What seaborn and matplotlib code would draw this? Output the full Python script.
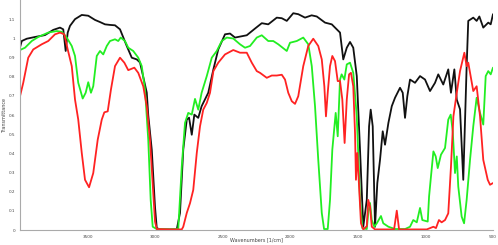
import numpy as np
import pandas as pd
import matplotlib
matplotlib.use("Agg")
import matplotlib.pyplot as plt
import seaborn as sns

black_wn = [4000, 3987, 3950, 3889, 3815, 3754, 3704, 3680, 3662, 3647, 3630, 3593, 3543, 3495, 3445, 3408, 3371, 3334, 3297, 3260, 3210, 3173, 3136, 3112, 3062, 3051, 3025, 3001, 2988, 2964, 2890, 2840, 2816, 2792, 2766, 2749, 2729, 2710, 2681, 2656, 2607, 2569, 2533, 2483, 2446, 2409, 2322, 2261, 2211, 2163, 2100, 2063, 2026, 1978, 1941, 1891, 1842, 1804, 1743, 1693, 1669, 1632, 1608, 1582, 1558, 1534, 1508, 1484, 1460, 1434, 1417, 1405, 1390, 1373, 1356, 1336, 1316, 1299, 1274, 1249, 1225, 1188, 1168, 1151, 1134, 1114, 1077, 1040, 1003, 966, 929, 905, 868, 831, 811, 786, 768, 744, 720, 695, 683, 646, 621, 601, 572, 535, 517, 500]
black_t = [0.953, 0.986, 0.998, 1.007, 1.017, 1.044, 1.056, 1.047, 0.934, 1.03, 1.065, 1.10, 1.122, 1.118, 1.096, 1.085, 1.073, 1.07, 1.068, 1.047, 0.96, 0.899, 0.89, 0.874, 0.717, 0.6, 0.419, 0.12, 0.01, 0.003, 0.003, 0.003, 0.089, 0.419, 0.576, 0.586, 0.497, 0.602, 0.585, 0.646, 0.716, 0.838, 0.942, 1.021, 1.025, 1.004, 1.016, 1.051, 1.079, 1.073, 1.108, 1.105, 1.091, 1.131, 1.126, 1.108, 1.12, 1.114, 1.082, 1.073, 1.056, 1.03, 0.89, 0.951, 0.981, 0.951, 0.803, 0.419, 0.017, 0.157, 0.541, 0.628, 0.541, 0.017, 0.245, 0.366, 0.515, 0.445, 0.559, 0.646, 0.69, 0.742, 0.716, 0.585, 0.698, 0.785, 0.768, 0.803, 0.785, 0.725, 0.768, 0.812, 0.759, 0.838, 0.716, 0.838, 0.68, 0.63, 0.262, 0.855, 1.091, 1.108, 1.091, 1.114, 1.056, 1.082, 1.073, 1.126]

green_wn = [4000, 3963, 3913, 3865, 3791, 3728, 3691, 3654, 3617, 3593, 3569, 3536, 3514, 3495, 3475, 3458, 3432, 3408, 3384, 3358, 3334, 3297, 3273, 3255, 3223, 3199, 3162, 3125, 3099, 3075, 3051, 3033, 3018, 2988, 2890, 2829, 2803, 2779, 2755, 2729, 2705, 2681, 2656, 2618, 2581, 2544, 2507, 2470, 2422, 2372, 2335, 2298, 2248, 2211, 2163, 2126, 2089, 2026, 2002, 1952, 1904, 1867, 1841, 1817, 1793, 1767, 1750, 1723, 1706, 1689, 1664, 1649, 1632, 1620, 1600, 1582, 1558, 1534, 1508, 1484, 1467, 1434, 1423, 1410, 1397, 1378, 1360, 1329, 1312, 1274, 1225, 1151, 1114, 1090, 1064, 1040, 1023, 983, 973, 959, 941, 924, 909, 885, 855, 831, 813, 798, 781, 768, 757, 732, 714, 695, 670, 646, 621, 596, 572, 554, 535, 517, 500]
green_t = [0.939, 0.951, 0.986, 1.007, 1.03, 1.038, 1.034, 1.004, 0.96, 0.908, 0.768, 0.686, 0.716, 0.771, 0.716, 0.75, 0.908, 0.934, 0.916, 0.96, 0.986, 0.995, 0.986, 1.004, 0.986, 0.951, 0.934, 0.899, 0.855, 0.733, 0.471, 0.157, 0.017, 0.005, 0.003, 0.005, 0.331, 0.559, 0.611, 0.602, 0.684, 0.628, 0.716, 0.803, 0.899, 0.934, 0.986, 1.004, 0.999, 0.969, 0.951, 0.96, 1.004, 1.016, 0.986, 0.986, 0.969, 0.934, 0.977, 0.986, 1.004, 0.969, 0.855, 0.646, 0.366, 0.089, 0.005, 0.005, 0.157, 0.419, 0.611, 0.489, 0.785, 0.812, 0.785, 0.864, 0.873, 0.82, 0.593, 0.157, 0.01, 0.005, 0.089, 0.141, 0.052, 0.017, 0.035, 0.073, 0.035, 0.017, 0.005, 0.005, 0.017, 0.052, 0.04, 0.115, 0.052, 0.044, 0.175, 0.279, 0.41, 0.384, 0.323, 0.393, 0.428, 0.576, 0.602, 0.515, 0.297, 0.384, 0.227, 0.07, 0.035, 0.157, 0.366, 0.541, 0.69, 0.611, 0.55, 0.803, 0.829, 0.812, 0.847]

red_wn = [4000, 3976, 3939, 3902, 3839, 3791, 3741, 3704, 3672, 3647, 3617, 3593, 3569, 3543, 3519, 3489, 3458, 3425, 3395, 3376, 3351, 3327, 3297, 3260, 3228, 3199, 3154, 3125, 3088, 3062, 3038, 3014, 3001, 2988, 2890, 2803, 2792, 2766, 2742, 2718, 2692, 2668, 2644, 2618, 2594, 2569, 2533, 2483, 2422, 2372, 2322, 2285, 2248, 2224, 2174, 2137, 2100, 2063, 2039, 2015, 1989, 1965, 1941, 1904, 1867, 1830, 1793, 1767, 1748, 1736, 1723, 1706, 1689, 1669, 1649, 1632, 1615, 1598, 1582, 1565, 1551, 1534, 1521, 1514, 1504, 1491, 1477, 1460, 1434, 1423, 1410, 1397, 1373, 1232, 1212, 1195, 990, 941, 922, 900, 880, 855, 831, 811, 793, 768, 744, 712, 695, 683, 646, 621, 596, 572, 539, 522, 500]
red_t = [0.698, 0.768, 0.899, 0.942, 0.969, 0.986, 1.021, 1.03, 1.021, 0.942, 0.855, 0.681, 0.576, 0.402, 0.262, 0.223, 0.297, 0.471, 0.576, 0.614, 0.619, 0.733, 0.855, 0.899, 0.873, 0.834, 0.847, 0.82, 0.75, 0.646, 0.471, 0.192, 0.044, 0.005, 0.003, 0.003, 0.017, 0.089, 0.14, 0.209, 0.402, 0.541, 0.628, 0.663, 0.716, 0.829, 0.873, 0.916, 0.939, 0.925, 0.925, 0.873, 0.829, 0.82, 0.794, 0.806, 0.806, 0.81, 0.785, 0.716, 0.672, 0.658, 0.698, 0.855, 0.96, 0.998, 0.96, 0.89, 0.75, 0.593, 0.716, 0.855, 0.908, 0.881, 0.777, 0.777, 0.681, 0.454, 0.681, 0.812, 0.82, 0.75, 0.506, 0.262, 0.402, 0.227, 0.035, 0.003, 0.02, 0.157, 0.122, 0.017, 0.003, 0.003, 0.101, 0.003, 0.003, 0.017, 0.01, 0.052, 0.04, 0.052, 0.087, 0.331, 0.593, 0.716, 0.829, 0.925, 0.855, 0.873, 0.725, 0.75, 0.593, 0.366, 0.262, 0.236, 0.245]

x_ticks = [3500, 3000, 2500, 2000, 1500, 1000, 500]
y_ticks = [0, 0.1, 0.2, 0.3, 0.4, 0.5, 0.6, 0.7, 0.8, 0.9, 1, 1.1]
y_tick_labels = ["0", "0.1", "0.2", "0.3", "0.4", "0.5", "0.6", "0.7", "0.8", "0.9", "1", "1.1"]

df = pd.concat([
    pd.DataFrame({"wn": black_wn, "t": black_t, "s": "black"}),
    pd.DataFrame({"wn": green_wn, "t": green_t, "s": "green"}),
    pd.DataFrame({"wn": red_wn, "t": red_t, "s": "red"}),
])

sns.set_style("white")
plt.rcParams["font.family"] = ["DejaVu Sans"]

fig = plt.figure(figsize=(4.98, 2.45), dpi=100)
ax = fig.add_axes([20 / 498, 1 - 230 / 245, 473 / 498, 230 / 245])

palette = {"black": "#111111", "green": "#22ee22", "red": "#ff2222"}
sns.lineplot(data=df, x="wn", y="t", hue="s", palette=palette, estimator=None,
             sort=False, linewidth=1.3, legend=False, ax=ax)

ax.set_xlim(4000, 500)
ax.set_ylim(0, 1.2)
ax.set_xticks(x_ticks)
ax.set_xticklabels([str(v) for v in x_ticks])
ax.set_yticks(y_ticks)
ax.set_yticklabels(y_tick_labels)
ax.tick_params(axis="both", labelsize=3, length=2, width=0.5, color="#999999", pad=1.5, labelcolor="#444444")
for side in ["top", "right"]:
    ax.spines[side].set_visible(False)
for side in ["left", "bottom"]:
    ax.spines[side].set_color("#aaaaaa")
    ax.spines[side].set_linewidth(0.8)
ax.set_xlabel("Wavenumbers [1/cm]", fontsize=3.5, color="#444444")
ax.set_ylabel("Transmittance", fontsize=3.5, color="#444444")
ax.xaxis.set_label_coords(0.5, -10 / 230)
ax.xaxis.label.set_verticalalignment("center")
ax.yaxis.set_label_coords(-15 / 473, 0.5)
ax.yaxis.label.set_verticalalignment("center")

fig.savefig("out.png", dpi=100)
